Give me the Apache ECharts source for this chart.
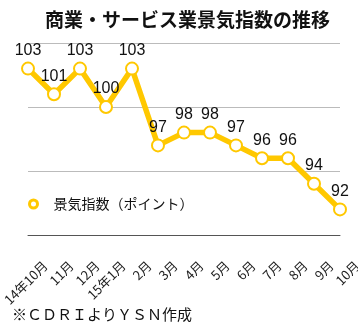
<!DOCTYPE html>
<html><head><meta charset="utf-8">
<script src="https://cdn.jsdelivr.net/npm/echarts@6/dist/echarts.min.js"></script>
<style>html,body{margin:0;padding:0;background:#fff}#c{width:358px;height:327px}</style>
</head><body><div id="c"></div>
<script>
const categories = ['14年10月','11月','12月','15年1月','2月','3月','4月','5月','6月','7月','8月','9月','10月'];
const values = [103,101,103,100,103,97,98,98,97,96,96,94,92];
const seriesName = '景気指数（ポイント）';
const titleText = '商業・サービス業景気指数の推移';
const noteText = '※ＣＤＲＩよりＹＳＮ作成';
const yMin = 90, yMax = 105, yStep = 5;

const gold = '#FFC800';
const jp = '"Noto Sans CJK JP", sans-serif';
const num = '"Liberation Sans", "Noto Sans CJK JP", sans-serif';

const chart = echarts.init(document.getElementById('c'), null, {renderer: 'canvas'});
chart.setOption({
  animation: false,
  backgroundColor: '#fff',
  title: {
    text: titleText, left: 40, top: 5,
    textStyle: {fontFamily: jp, fontSize: 19, fontWeight: 'bold', color: '#111'}
  },
  legend: {
    left: 23, top: 192, itemWidth: 30, itemHeight: 8, icon: 'circle',
    itemStyle: {color: '#fff', borderColor: gold, borderWidth: 3},
    data: [seriesName],
    textStyle: {fontFamily: jp, fontSize: 14, color: '#111'}
  },
  graphic: [{
    type: 'text', left: 12, top: 307,
    style: {text: noteText, font: '15px "Noto Sans CJK JP"', fill: '#111'}
  }],
  grid: {left: 28, right: 18, top: 43, bottom: 92, containLabel: false, outerBoundsMode: 'none'},
  xAxis: {
    type: 'category', data: categories, boundaryGap: false,
    axisLine: {lineStyle: {color: '#555', width: 1}},
    axisTick: {show: false},
    axisLabel: {
      interval: 0, rotate: 45, fontSize: 13, color: '#222', fontFamily: jp,
      margin: 11, align: 'right', verticalAlign: 'top', padding: [18, 0, 0, 0]
    }
  },
  yAxis: {
    type: 'value', min: yMin, max: yMax, interval: yStep,
    axisLabel: {show: false}, axisLine: {show: false}, axisTick: {show: false},
    splitLine: {lineStyle: {color: '#bbb', width: 1}}
  },
  series: [{
    name: seriesName, type: 'line', data: values,
    symbol: 'emptyCircle', symbolSize: 12,
    lineStyle: {color: gold, width: 5.5},
    itemStyle: {color: gold, borderColor: gold, borderWidth: 5},
    label: {show: true, position: 'top', distance: 3, fontSize: 16, color: '#111', fontFamily: num}
  }]
});
</script></body></html>
